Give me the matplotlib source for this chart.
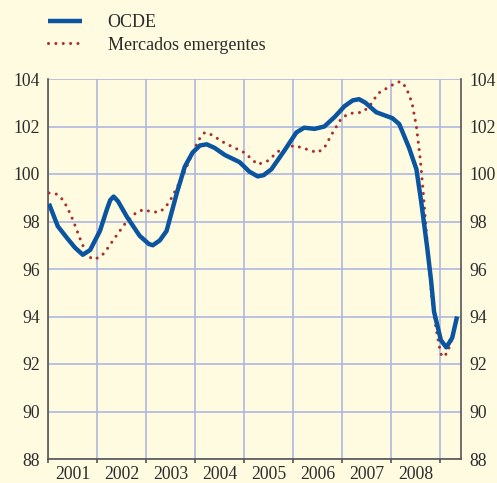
import numpy as np
import matplotlib
matplotlib.use("Agg")
import matplotlib.pyplot as plt

# OCDE (blue solid)
ocde_x = [2001.02, 2001.20, 2001.39, 2001.55, 2001.71, 2001.86, 2002.06, 2002.20, 2002.27, 2002.34,
          2002.43, 2002.61, 2002.87, 2003.06, 2003.14, 2003.28, 2003.42, 2003.63, 2003.79, 2003.95,
          2004.10, 2004.24, 2004.40, 2004.61, 2004.91, 2005.11, 2005.28, 2005.40, 2005.56, 2005.83,
          2006.07, 2006.23, 2006.44, 2006.64, 2006.85, 2007.05, 2007.22, 2007.35, 2007.48, 2007.70,
          2008.03, 2008.17, 2008.37, 2008.52, 2008.62, 2008.74, 2008.82, 2008.88, 2009.02, 2009.13,
          2009.25, 2009.35]
ocde_y = [98.75, 97.8, 97.3, 96.9, 96.6, 96.8, 97.6, 98.5, 98.9, 99.05,
          98.85, 98.2, 97.4, 97.05, 97.0, 97.2, 97.6, 99.2, 100.3, 100.9,
          101.2, 101.25, 101.1, 100.8, 100.5, 100.1, 99.9, 99.95, 100.2, 101.0,
          101.75, 101.95, 101.9, 102.0, 102.4, 102.85, 103.1, 103.15, 103.0, 102.6,
          102.35, 102.1, 101.1, 100.2, 98.8, 96.9, 95.5, 94.2, 93.0, 92.7,
          93.1, 94.0]

# Mercados emergentes (red dotted)
em_x = [2001.02, 2001.18, 2001.31, 2001.39, 2001.47, 2001.53, 2001.65, 2001.79, 2001.92, 2002.06,
        2002.16, 2002.36, 2002.57, 2002.81, 2002.96, 2003.12, 2003.28, 2003.40, 2003.51, 2003.65,
        2003.81, 2003.93, 2004.08, 2004.20, 2004.34, 2004.61, 2005.01, 2005.28, 2005.48, 2005.73,
        2006.03, 2006.19, 2006.50, 2006.64, 2006.80, 2006.99, 2007.15, 2007.42, 2007.56, 2007.74,
        2008.03, 2008.19, 2008.31, 2008.43, 2008.52, 2008.60, 2008.66, 2008.74, 2008.84, 2008.92,
        2009.00, 2009.04, 2009.15, 2009.25]
em_y = [99.2, 99.15, 98.9, 98.6, 98.25, 97.95, 97.3, 96.6, 96.4, 96.5,
        96.7, 97.3, 97.9, 98.4, 98.5, 98.4, 98.4, 98.6, 98.95, 99.5,
        100.2, 100.8, 101.45, 101.75, 101.65, 101.3, 100.9, 100.4, 100.55, 101.0,
        101.2, 101.1, 100.9, 101.1, 101.7, 102.35, 102.55, 102.6, 102.85, 103.4,
        103.75, 103.9, 103.65, 103.0, 102.0, 100.6, 99.2, 97.1, 94.65, 93.5,
        92.6, 92.3, 92.45, 93.1]

years = [2001, 2002, 2003, 2004, 2005, 2006, 2007, 2008]
yticks = [88, 90, 92, 94, 96, 98, 100, 102, 104]

bg = '#FEFBE0'
txt = '#2b2b2b'
plt.rcParams['font.family'] = ['Liberation Serif', 'DejaVu Serif']
plt.rcParams['font.size'] = 12.7

fig = plt.figure(figsize=(4.97, 4.83), dpi=100, facecolor=bg)
ax = fig.add_axes([48 / 497, 1 - 459 / 483, (461 - 48) / 497, (459 - 79) / 483])
ax.set_facecolor(bg)

ax.plot(em_x, em_y, color='#A8302E', lw=2.2, linestyle=(0, (0.01, 2.4)),
        dash_capstyle='round', label='Mercados emergentes', zorder=3)
ax.plot(ocde_x, ocde_y, color='#0B55A0', lw=3.2, solid_capstyle='butt',
        solid_joinstyle='round', label='OCDE', zorder=4)

ax.set_xlim(2001, 2009.43)
ax.set_ylim(88, 104)

# year boundaries as major ticks, labels in the middle
ax.set_xticks(years + [2009])
ax.set_xticks([y + 0.5 for y in years], minor=True)
ax.set_xticklabels([str(y) for y in years], minor=True)
ax.tick_params(axis='x', which='major', labelbottom=False, direction='out', length=3,
               width=1.2, color='#555555')
ax.tick_params(axis='x', which='minor', length=0, pad=5, labelcolor=txt)

ax.set_yticks(yticks)
ax.set_yticklabels([str(v) for v in yticks])
ax.tick_params(axis='y', length=0, labelleft=True, labelright=True, pad=6, labelcolor=txt)

ax.grid(True, which='major', color='#AEB8E2', lw=1.2)
ax.set_axisbelow(True)

for s in ['left', 'right', 'bottom']:
    ax.spines[s].set_color('#555555')
    ax.spines[s].set_linewidth(1.2)
ax.spines['top'].set_visible(False)

handles, labels = ax.get_legend_handles_labels()
fig.legend(handles[::-1], labels[::-1], loc='upper left',
           bbox_to_anchor=(48 / 497, 1 - 14 / 483), frameon=False,
           borderpad=0, borderaxespad=0, handlelength=1.9, handletextpad=1.4,
           labelspacing=0.32, labelcolor=txt, fontsize=13)

fig.savefig('out.png', dpi=100, facecolor=bg)
